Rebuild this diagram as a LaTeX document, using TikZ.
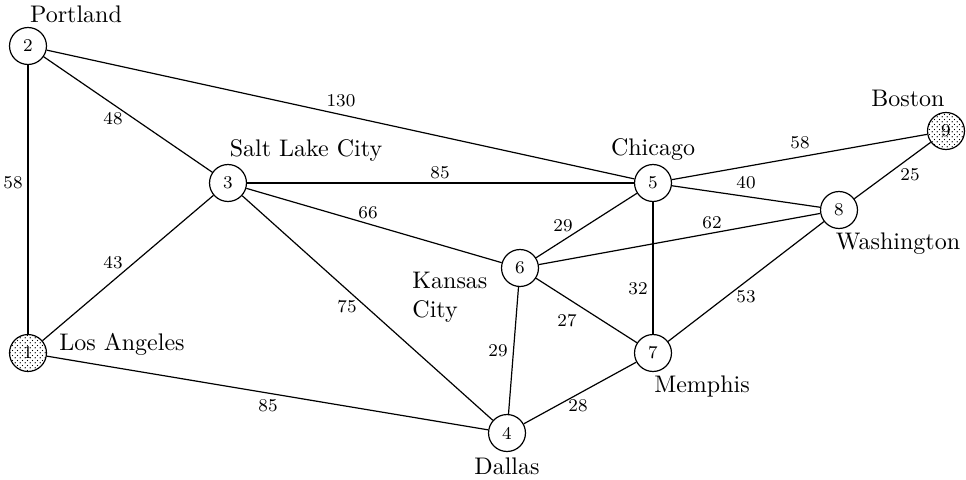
\documentclass[tikz,border=0pt]{standalone}
\usetikzlibrary{patterns}
\pgfdeclarepatternformonly{finedots}{\pgfpointorigin}{\pgfpoint{2pt}{2pt}}{\pgfpoint{2pt}{2pt}}{%
  \pgfpathcircle{\pgfpoint{0.5pt}{0.5pt}}{0.3pt}\pgfusepath{fill}%
  \pgfpathcircle{\pgfpoint{1.5pt}{1.5pt}}{0.3pt}\pgfusepath{fill}}
\begin{document}
\begin{tikzpicture}[x=0.41667pt,y=-0.41667pt,
  city/.style={circle,draw,line width=0.5pt,minimum size=15.4pt,inner sep=0pt,fill=white,font=\fontsize{7.5}{9}\selectfont},
  dotcity/.style={city,postaction={pattern=finedots}},
  elbl/.style={font=\fontsize{7.5}{9}\selectfont,inner sep=0pt},
  cityname/.style={inner sep=0pt},
  road/.style={line width=0.5pt}]
\useasboundingbox (0,0) rectangle (966,479);
% nodes
\node[dotcity] (n1) at (28,353) {1};
\node[city] (n2) at (28,46) {2};
\node[city] (n3) at (228,183) {3};
\node[city] (n4) at (507,433) {4};
\node[city] (n5) at (653,183) {5};
\node[city] (n6) at (520,268) {6};
\node[city] (n7) at (653,353) {7};
\node[city] (n8) at (839,210) {8};
\node[dotcity] (n9) at (946,131) {9};
% edges
\draw[road] (n1) -- (n2);
\draw[road] (n1) -- (n3);
\draw[road] (n1) -- (n4);
\draw[road] (n2) -- (n3);
\draw[road] (n2) -- (n5);
\draw[road] (n3) -- (n5);
\draw[road] (n3) -- (n6);
\draw[road] (n3) -- (n4);
\draw[road] (n4) -- (n6);
\draw[road] (n4) -- (n7);
\draw[road] (n5) -- (n6);
\draw[road] (n5) -- (n7);
\draw[road] (n5) -- (n8);
\draw[road] (n5) -- (n9);
\draw[road] (n6) -- (n8);
\draw[road] (n6) -- (n7);
\draw[road] (n7) -- (n8);
\draw[road] (n8) -- (n9);
% edge labels
\node[elbl] (l130) at (341,101) {130};
\node[elbl] (l48) at (113,119) {48};
\node[elbl] (l58a) at (13,183) {58};
\node[elbl] (l43) at (113,263) {43};
\node[elbl] (l85a) at (440,173) {85};
\node[elbl] (l66) at (368,213) {66};
\node[elbl] (l29a) at (563,226) {29};
\node[elbl] (l62) at (712,223) {62};
\node[elbl] (l58b) at (800,143) {58};
\node[elbl] (l40) at (746,183) {40};
\node[elbl] (l25) at (910,175) {25};
\node[elbl] (l75) at (347,307) {75};
\node[elbl] (l32) at (638,289) {32};
\node[elbl] (l53) at (746,297) {53};
\node[elbl] (l27) at (567,321) {27};
\node[elbl] (l29b) at (498,351) {29};
\node[elbl] (l28) at (578,406) {28};
\node[elbl] (l85b) at (268,406) {85};
% city names
\node[cityname] (tPortland) at (76,14) {Portland};
\node[cityname] (tSLC) at (306,150) {Salt Lake City};
\node[cityname] (tChicago) at (653,150) {Chicago};
\node[cityname] (tBoston) at (908,98) {Boston};
\node[cityname] (tWashington) at (898,244) {Washington};
\node[cityname,anchor=north west,align=left] (tKansas) at (412,272) {Kansas\\City};
\node[cityname] (tLA) at (122,344) {Los Angeles};
\node[cityname] (tMemphis) at (702,386) {Memphis};
\node[cityname] (tDallas) at (507,466) {Dallas};
\end{tikzpicture}
\end{document}
